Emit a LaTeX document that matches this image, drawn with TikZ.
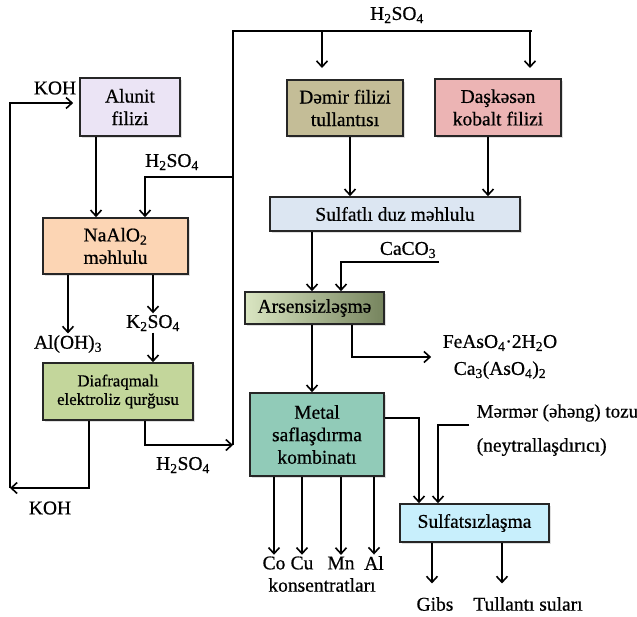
\documentclass[tikz,border=0pt]{standalone}
\usepackage{fontspec}
\setmainfont{Liberation Serif}[FakeBold=0.6]
\usetikzlibrary{arrows.meta, calc, positioning, shadows}
\definecolor{orecol}{RGB}{235, 228, 245}
\definecolor{ironcol}{RGB}{196, 189, 151}
\definecolor{cobcol}{RGB}{236, 180, 180}
\definecolor{alucol}{RGB}{252, 213, 180}
\definecolor{elcol}{RGB}{195, 214, 155}
\definecolor{sulfcol}{RGB}{220, 230, 242}
\definecolor{arsleft}{RGB}{218, 230, 194}
\definecolor{arsright}{RGB}{118, 132, 94}
\definecolor{metcol}{RGB}{145, 203, 184}
\definecolor{desulfcol}{RGB}{200, 239, 252}
\definecolor{linecol}{RGB}{38, 38, 38}
\tikzset{
  blk/.style   = {draw=linecol, line width=1.6pt, align=center, inner sep=2pt,
                  font=\fontsize{19.5}{22.5}\selectfont,
                  drop shadow={opacity=0.25, shadow xshift=1.5pt,
                               shadow yshift=-1.5pt}},
  ore/.style   = {blk, fill=orecol, minimum width=100pt, minimum height=58pt},
  iron/.style  = {blk, fill=ironcol, minimum width=116pt, minimum height=56pt},
  cobalt/.style = {blk, fill=cobcol, minimum width=126pt, minimum height=57pt},
  aluminate/.style = {blk, fill=alucol, minimum width=145pt, minimum height=56pt},
  electro/.style = {blk, fill=elcol, minimum width=150pt, minimum height=57pt,
                    font=\fontsize{16.8}{18.5}\selectfont},
  sulfate/.style = {blk, fill=sulfcol, minimum width=250pt, minimum height=34pt},
  arsenic/.style = {blk, left color=arsleft, right color=arsright,
                    minimum width=139pt, minimum height=32pt},
  plant/.style = {blk, fill=metcol, minimum width=134pt, minimum height=83pt},
  desulf/.style = {blk, fill=desulfcol, minimum width=149pt, minimum height=38pt},
  lbl/.style   = {font=\fontsize{19.5}{22}\selectfont, inner sep=1.5pt},
  pipe/.style  = {draw=black, line width=1.6pt},
  flow/.style  = {pipe, -{Straight Barb[length=6pt, width=11pt]}},
}

\begin{document}
\begin{tikzpicture}[x=1pt, y=-1pt]
  \useasboundingbox (0,0) rectangle (637,616);

  %% ================ raw materials ================
  \node[ore]    (alunit) at (130,107)   {Alunit\\filizi};
  \node[iron]   (demir)  at (345,108)   {Dəmir filizi\\tullantısı};
  \node[cobalt] (dask)   at (498,107.5) {Daşkəsən\\kobalt filizi};

  %% ================ alunite line ================
  \node[aluminate] (naalo) at (115.5,246) {NaAlO\textsubscript{2}\\məhlulu};
  \node[electro]   (diaf)  at (118,391.5) {Diafraqmalı\\elektroliz qurğusu};

  \node[lbl] (aloh)    at (68,344)  {Al(OH)\textsubscript{3}};
  \node[lbl] (kso)     at (153,323) {K\textsubscript{2}SO\textsubscript{4}};
  \node[lbl] (kohtop)  at (55,88)   {KOH};
  \node[lbl] (kohbot)  at (50,508)  {KOH};
  \node[lbl] (acidtop) at (397,15)  {H\textsubscript{2}SO\textsubscript{4}};
  \node[lbl] (acidmid) at (172,162) {H\textsubscript{2}SO\textsubscript{4}};
  \node[lbl] (acidbot) at (183,465) {H\textsubscript{2}SO\textsubscript{4}};

  \coordinate (bus)    at (233,31);
  \coordinate (busend) at (532,31);
  \coordinate (busin)  at (233,445);
  \coordinate (tap)    at (233,177);
  \coordinate (ret)    at (10,488);
  \coordinate (demin)  at (322,68);
  \coordinate (daskin) at (530,68);

  \draw[flow] ([xshift=-34pt]alunit.south) -- ([xshift=-34pt]alunit.south |- naalo.north);
  \draw[flow] (tap) -| ([xshift=29.5pt]naalo.north);
  \draw[flow] (naalo.south -| aloh) -- (aloh.north);
  \draw[flow] (naalo.south -| kso) -- (kso.north);
  \draw[flow] (kso.south) -- (diaf.north -| kso);

  % acid goes back round to the leaching steps, lye back to the ore
  \draw[flow] ([xshift=27pt]diaf.south) |- (busin);
  \draw[pipe] (busin) -- (bus) -- (busend);
  \draw[flow] (bus -| demin) -- (demin);
  \draw[flow] (bus -| daskin) -- (daskin);
  \draw[flow] ([xshift=-29pt]diaf.south) |- (ret);
  \draw[flow, shorten >=6pt] (ret) |- ([yshift=4pt]alunit.west);

  %% ================ sulfate line ================
  \node[sulfate] (sulf)  at (395,214)   {Sulfatlı duz məhlulu};
  \node[arsenic] (arsen) at (314.5,308) {Arsensizləşmə};
  \node[plant]   (metal) at (317,434.5) {Metal\\saflaşdırma\\kombinatı};
  \node[desulf]  (sulfsiz) at (474.5,523) {Sulfatsızlaşma};

  \node[lbl] (caco)   at (408,250) {CaCO\textsubscript{3}};
  \node[lbl, align=center] (arsout) at (500,357)
       {FeAsO\textsubscript{4}·2H\textsubscript{2}O\\[5pt]Ca\textsubscript{3}(AsO\textsubscript{4})\textsubscript{2}};
  \node[lbl, anchor=west, font=\fontsize{19}{22}\selectfont] (mermer) at (475,413) {Mərmər (əhəng) tozu};
  \node[lbl, anchor=west] (neytr)  at (475,447) {(neytrallaşdırıcı)};

  \node[lbl] (co) at (274,563) {Co};
  \node[lbl] (cu) at (302,563) {Cu};
  \node[lbl] (mn) at (341,563) {Mn};
  \node[lbl] (al) at (374,563) {Al};
  \node[lbl] (kons) at (322,585) {konsentratları};
  \node[lbl] (gibs) at (435,604) {Gibs};
  \node[lbl] (tull) at (528,604) {Tullantı suları};

  \coordinate (cain)  at (439,262);
  \coordinate (merin) at (469,425);

  \draw[flow] ([xshift=5pt]demir.south) -- ([xshift=5pt]demir.south |- sulf.north);
  \draw[flow] ([xshift=-10pt]dask.south) -- ([xshift=-10pt]dask.south |- sulf.north);
  \draw[flow] ([xshift=-2.5pt]arsen.north |- sulf.south) -- ([xshift=-2.5pt]arsen.north);
  \draw[flow] (cain) -| ([xshift=26.5pt]arsen.north);
  \draw[flow, shorten >=10pt] ([xshift=37.5pt]arsen.south) |- (arsout.west);
  \draw[flow] ([xshift=-2.5pt]arsen.south) -- ([xshift=-2.5pt]arsen.south |- metal.north);

  \foreach \m in {co, cu, mn, al}
    \draw[flow] (metal.south -| \m) -- (\m.north);

  \draw[flow] ([yshift=16.5pt]metal.east) -| ([xshift=-55.5pt]sulfsiz.north);
  \draw[flow] (merin) -| ([xshift=-36.5pt]sulfsiz.north);
  \draw[flow, shorten >=12pt] ([xshift=-42.5pt]sulfsiz.south) -- ([xshift=-42.5pt]sulfsiz.south |- gibs.north);
  \draw[flow, shorten >=12pt] ([xshift=27.5pt]sulfsiz.south) -- ([xshift=27.5pt]sulfsiz.south |- tull.north);

\end{tikzpicture}
\end{document}
